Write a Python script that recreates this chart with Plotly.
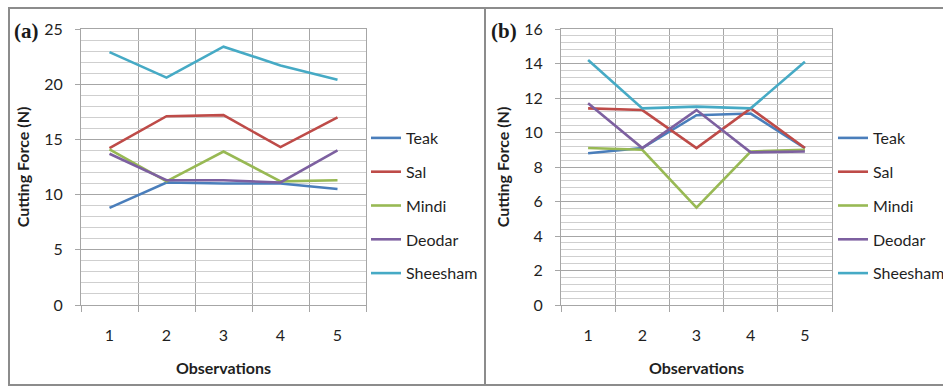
import plotly.graph_objects as go

# Observation numbers and cutting force (N) per wood species
observations = [1, 2, 3, 4, 5]
species = ["Teak", "Sal", "Mindi", "Deodar", "Sheesham"]

force_a_teak = [8.8, 11.1, 11.0, 11.0, 10.5]
force_a_sal = [14.2, 17.1, 17.2, 14.3, 17.0]
force_a_mindi = [14.1, 11.2, 13.9, 11.2, 11.3]
force_a_deodar = [13.7, 11.3, 11.3, 11.1, 14.0]
force_a_sheesham = [22.9, 20.6, 23.4, 21.7, 20.4]

force_b_teak = [8.8, 9.1, 11.0, 11.1, 9.1]
force_b_sal = [11.4, 11.3, 9.1, 11.4, 9.1]
force_b_mindi = [9.1, 9.0, 5.65, 8.9, 9.0]
force_b_deodar = [11.7, 9.1, 11.3, 8.85, 8.9]
force_b_sheesham = [14.2, 11.4, 11.5, 11.4, 14.1]

colors = ["#4A7EBB", "#BE4B48", "#98B954", "#7D60A0", "#46AAC5"]

W, H = 943, 389
FONT = "Lato, 'Open Sans', sans-serif"
GRID = "#a6a6a6"
MINOR = "#cfcfcf"
TEXT = "#1f1f1f"


def px_x(v):
    return v / W


def px_y(v):
    return 1 - v / H


fig = go.Figure()

panels = [
    dict(series=[force_a_teak, force_a_sal, force_a_mindi, force_a_deodar, force_a_sheesham],
         legend="legend", ymax=25, major=5, minor=1, x0=81, x1=366, tag="a", tagx=12),
    dict(series=[force_b_teak, force_b_sal, force_b_mindi, force_b_deodar, force_b_sheesham],
         legend="legend2", ymax=16, major=2, minor=0.4, x0=561, x1=832, tag="b", tagx=489),
]
axis_ids = [("xaxis", "yaxis", "x", "y"), ("xaxis2", "yaxis2", "x2", "y2")]

for p, (_, _, xref, yref) in zip(panels, axis_ids):
    for name, vals, col in zip(species, p["series"], colors):
        fig.add_trace(go.Scatter(
            x=observations, y=vals, name=name, mode="lines",
            line=dict(color=col, width=2.6),
            xaxis=xref, yaxis=yref,
            legend=p["legend"], legendgroup=p["legend"] + name,
        ))

top, bottom = 29, 305
ydom = [px_y(bottom), px_y(top)]

layout = dict(
    width=W, height=H,
    margin=dict(l=0, r=0, t=0, b=0, autoexpand=False),
    paper_bgcolor="white", plot_bgcolor="white",
    font=dict(family=FONT, size=14, color=TEXT),
    showlegend=True,
)

annotations = []
for p, (xa, ya, xref, yref) in zip(panels, axis_ids):
    dom = [px_x(p["x0"]), px_x(p["x1"])]
    # labels sit on the observations; gridlines and ticks sit on the category boundaries
    layout[xa] = dict(
        domain=dom, range=[0.5, 5.5], anchor=yref, automargin=False,
        tickmode="linear", tick0=1, dtick=1,
        showgrid=False, ticks="",
        minor=dict(tick0=0.5, dtick=1, showgrid=True, gridcolor=GRID, gridwidth=1,
                   ticks="outside", ticklen=6, tickcolor=GRID),
        showline=True, linecolor=GRID, linewidth=1, mirror=True,
        zeroline=False, fixedrange=True,
        ticklabelstandoff=16, tickfont=dict(size=16, color=TEXT),
        title=dict(text="<b>Observations</b>", font=dict(size=16, color=TEXT), standoff=19),
    )
    layout[ya] = dict(
        domain=ydom, range=[0, p["ymax"]], anchor=xref, automargin=False,
        tickmode="linear", dtick=p["major"], tick0=0,
        showgrid=True, gridcolor=GRID, gridwidth=1,
        minor=dict(dtick=p["minor"], tick0=0, showgrid=True, gridcolor=MINOR, gridwidth=1, ticks=""),
        ticks="outside", ticklen=5, tickcolor=GRID,
        showline=True, linecolor=GRID, linewidth=1, mirror=True,
        zeroline=False, fixedrange=True,
        ticklabelstandoff=9, tickfont=dict(size=16, color=TEXT),
        title=dict(text="<b>Cutting Force (N)</b>", font=dict(size=16, color=TEXT), standoff=10),
    )
    annotations.append(dict(
        text="<b>(%s)</b>" % p["tag"], x=px_x(p["tagx"]), y=px_y(31),
        xref="paper", yref="paper", xanchor="left", yanchor="middle",
        showarrow=False, font=dict(family="'Liberation Serif', 'DejaVu Serif', serif", size=21, color="#1a1a1a"),
    ))

for lg, lx in (("legend", 366), ("legend2", 833)):
    layout[lg] = dict(
        x=px_x(lx), y=px_y(121), xref="paper", yref="paper",
        xanchor="left", yanchor="top",
        bgcolor="rgba(0,0,0,0)", borderwidth=0,
        font=dict(size=16, color=TEXT),
        tracegroupgap=10, itemwidth=30,
    )

layout["annotations"] = annotations
# outer frames around the two panels
layout["shapes"] = [
    dict(type="rect", xref="paper", yref="paper", x0=px_x(9), x1=px_x(485), y0=px_y(385), y1=px_y(8),
         line=dict(color="#8c8c8c", width=2)),
    dict(type="rect", xref="paper", yref="paper", x0=px_x(485), x1=px_x(950), y0=px_y(385), y1=px_y(8),
         line=dict(color="#8c8c8c", width=2)),
]

fig.update_layout(**layout)
fig.write_html("out.html")
